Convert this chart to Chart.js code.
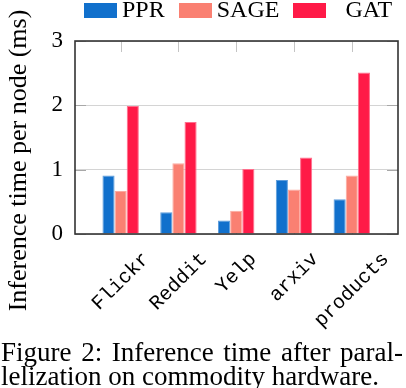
<!DOCTYPE html>
<html>
<head>
<meta charset="utf-8">
<script src="https://cdn.jsdelivr.net/npm/chart.js@4.4.1/dist/chart.umd.min.js"></script>
<style>
  html, body { margin: 0; padding: 0; background: #fff; }
  #wrap { position: relative; width: 406px; height: 388px; overflow: hidden; background: #fff; }
  #legend { position: absolute; top: -3px; left: 84px; display: flex; align-items: flex-start;
            font-family: "Liberation Serif", serif; font-size: 24px; line-height: 24px; color: #000; }
  #legend .item { display: flex; align-items: flex-start; margin-right: 14px; white-space: nowrap; }
  #legend .box { width: 33px; height: 15px; margin-top: 6px; }
  #legend .txt { margin-left: 5px; }
  #legend .item:last-child .txt { margin-left: 19px; }
  .cap { position: absolute; font-family: "Liberation Serif", serif; font-size: 27px; line-height: 27px; color: #000; white-space: nowrap; }
  #cap1 { left: 1px; top: 339px; width: 402px; text-align: justify; text-align-last: justify; white-space: normal; }
  #cap2 { left: 1px; top: 363px; }
</style>
</head>
<body>
<div id="wrap">
  <canvas id="c" width="406" height="388"></canvas>
  <div id="legend"></div>
  <div class="cap" id="cap1">Figure 2: Inference time after paral-</div>
  <div class="cap" id="cap2">lelization on commodity hardware.</div>
</div>
<script>
const categories = ['Flickr', 'Reddit', 'Yelp', 'arxiv', 'products'];
const seriesNames = ['PPR', 'SAGE', 'GAT'];
const pprValues  = [0.91, 0.34, 0.21, 0.84, 0.54];
const sageValues = [0.67, 1.10, 0.36, 0.69, 0.91];
const gatValues  = [1.99, 1.74, 1.01, 1.19, 2.51];
const yTickValues = [0, 1, 2, 3];
const yTitle = 'Inference time per node (ms)';

const fills   = ['#1170CC', '#FA8072', '#FF1A47'];
const edges   = ['#5e9ddb', '#fcaaa1', '#ff6f8d'];

const datasets = [pprValues, sageValues, gatValues].map((vals, k) => ({
  label: seriesNames[k],
  data: vals,
  backgroundColor: fills[k],
  borderColor: edges[k],
  borderWidth: 1,
  borderSkipped: 'start',
  categoryPercentage: 0.63,
  barPercentage: 1.0
}));

const decorPlugin = {
  id: 'decor',
  beforeDatasetsDraw(chart) {
    const {ctx, chartArea: a, scales: {x, y}} = chart;
    ctx.save();
    ctx.lineWidth = 1;
    // vertical tick marks at category centres (top & bottom, inside)
    ctx.strokeStyle = '#c4c4c4';
    categories.forEach((_, i) => {
      const px = Math.round(x.getPixelForValue(i)) + 0.5;
      ctx.beginPath();
      ctx.moveTo(px, a.top); ctx.lineTo(px, a.top + 11);
      ctx.moveTo(px, a.bottom); ctx.lineTo(px, a.bottom - 11);
      ctx.stroke();
    });
    // y tick marks inside left and right
    ctx.strokeStyle = '#a8a8a8';
    yTickValues.forEach(v => {
      const py = Math.round(y.getPixelForValue(v)) + 0.5;
      ctx.beginPath();
      ctx.moveTo(a.left, py); ctx.lineTo(a.left + 11, py);
      ctx.moveTo(a.right, py); ctx.lineTo(a.right - 11, py);
      ctx.stroke();
    });
    ctx.restore();
  },
  afterDraw(chart) {
    const {ctx, chartArea: a, scales: {x}} = chart;
    ctx.save();
    // frame
    ctx.strokeStyle = '#333';
    ctx.lineWidth = 1.6;
    ctx.strokeRect(a.left, a.top, a.right - a.left, a.bottom - a.top);
    // y-axis title
    ctx.fillStyle = '#000';
    ctx.font = '26px "Liberation Serif"';
    ctx.textAlign = 'center';
    ctx.textBaseline = 'alphabetic';
    ctx.save();
    ctx.translate(26, 160.5);
    ctx.rotate(-Math.PI / 2);
    ctx.fillText(yTitle, 0, 0);
    ctx.restore();
    // rotated x labels
    ctx.font = '20px "Liberation Mono"';
    ctx.textAlign = 'right';
    ctx.textBaseline = 'middle';
    categories.forEach((lab, i) => {
      const cx = x.getPixelForValue(i);
      const w = ctx.measureText(lab).width;
      ctx.save();
      ctx.translate(cx + 0.354 * w, 256);
      ctx.rotate(-Math.PI / 4);
      ctx.fillText(lab, 0, 0);
      ctx.restore();
    });
    ctx.restore();
  }
};

const chart = new Chart(document.getElementById('c'), {
  type: 'bar',
  data: { labels: categories.map((_, i) => i), datasets },
  options: {
    responsive: false,
    animation: false,
    devicePixelRatio: 1,
    layout: { padding: { left: 0, right: 8, top: 41, bottom: 0 } },
    plugins: { legend: { display: false }, title: { display: false }, tooltip: { enabled: false } },
    scales: {
      x: {
        type: 'linear', min: -0.79, max: 4.8, offset: false,
        grid: { display: false }, border: { display: false },
        ticks: { display: false, stepSize: 1 },
        afterBuildTicks: s => { s.ticks = categories.map((_, i) => ({ value: i })); },
        afterFit: s => { s.height = 154; }
      },
      y: {
        min: 0, max: 3,
        afterBuildTicks: s => { s.ticks = yTickValues.map(v => ({ value: v })); },
        ticks: { font: { family: 'Liberation Serif', size: 23 }, color: '#000', padding: 12 },
        grid: { color: '#d4d4d4', lineWidth: 1, drawTicks: false },
        border: { display: false },
        afterFit: s => { s.width = 75; }
      }
    }
  },
  plugins: [decorPlugin]
});

// HTML legend built from the datasets
const lg = document.getElementById('legend');
chart.data.datasets.forEach(ds => {
  const item = document.createElement('div'); item.className = 'item';
  const box = document.createElement('div'); box.className = 'box'; box.style.background = ds.backgroundColor;
  const t = document.createElement('span'); t.className = 'txt'; t.textContent = ds.label;
  item.appendChild(box); item.appendChild(t); lg.appendChild(item);
});
</script>
</body>
</html>
